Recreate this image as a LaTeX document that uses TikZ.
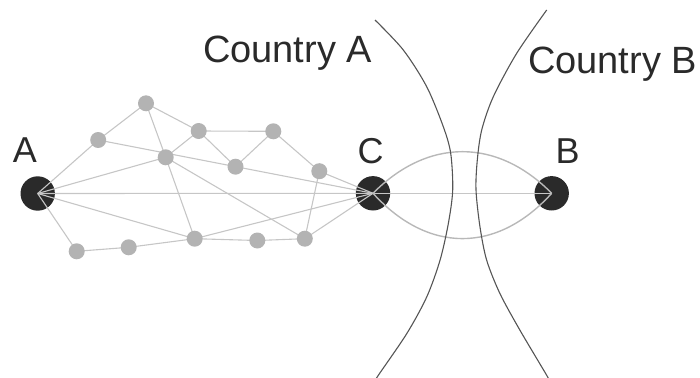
\documentclass[tikz,border=0pt]{standalone}
\usepackage{fontspec}
\setmainfont{Liberation Sans}
\definecolor{dotdark}{HTML}{2A2A2A}
\definecolor{dotgray}{HTML}{B3B3B3}
\definecolor{edgegray}{HTML}{C6C6C6}
\definecolor{lensgray}{HTML}{B8B8B8}
\definecolor{bordergray}{HTML}{555555}
\definecolor{textdark}{HTML}{2A2A2A}
\pgfdeclarelayer{bg}
\pgfdeclarelayer{edges}
\pgfsetlayers{bg,edges,main}
\begin{document}
\begin{tikzpicture}[x=1pt,y=-1pt,
  bigdot/.style={circle,fill=dotdark,inner sep=0pt,minimum size=34.4pt},
  smalldot/.style={circle,fill=dotgray,inner sep=0pt,minimum size=16pt},
  edge/.style={draw=edgegray,line width=1.1pt},
  border/.style={draw=bordergray,line width=1.1pt},
  lens/.style={draw=lensgray,line width=1.4pt},
  lbl/.style={text=textdark,font=\fontsize{36}{40}\selectfont,anchor=base,inner sep=0pt},
  clbl/.style={text=textdark,font=\fontsize{38}{44}\selectfont,anchor=base,inner sep=0pt}]
\useasboundingbox (0,0) rectangle (700,377);

% big nodes
\begin{pgfonlayer}{bg}
\node[bigdot] (A) at (37.7,193.5) {};
\node[bigdot] (C) at (373,193.3) {};
\node[bigdot] (B) at (551.7,193.3) {};
\end{pgfonlayer}

% small nodes
\node[smalldot] (n1) at (146,103.3) {};
\node[smalldot] (n2) at (98.2,140) {};
\node[smalldot] (n3) at (198.7,131) {};
\node[smalldot] (n4) at (273.3,131.3) {};
\node[smalldot] (n5) at (165.7,157.3) {};
\node[smalldot] (n6) at (235.5,166.7) {};
\node[smalldot] (n7) at (319.3,171.2) {};
\node[smalldot] (n8) at (76.7,251.3) {};
\node[smalldot] (n9) at (128.7,247.3) {};
\node[smalldot] (n10) at (194.7,238.7) {};
\node[smalldot] (n11) at (257.3,240.5) {};
\node[smalldot] (n12) at (304.8,238.7) {};

% labels
\node[lbl] (lA) at (25,162.3) {A};
\node[lbl] (lC) at (370.5,163) {C};
\node[lbl] (lB) at (567.5,163.3) {B};
\node[clbl] (cA) at (287.5,63) {Country A};
\node[clbl] (cB) at (612.5,73.3) {Country B};

% edges
\begin{pgfonlayer}{edges}
\draw[edge] (A.center) -- (n2.center);
\draw[edge] (A.center) -- (n5.center);
\draw[edge] (A.center) -- (C.center);
\draw[edge] (A.center) -- (n10.center);
\draw[edge] (A.center) -- (n8.center);
\draw[edge] (n2.center) -- (n1.center);
\draw[edge] (n2.center) -- (C.center);
\draw[edge] (n1.center) -- (n3.center);
\draw[edge] (n1.center) -- (n5.center);
\draw[edge] (n5.center) -- (n10.center);
\draw[edge] (n3.center) -- (n4.center);
\draw[edge] (n3.center) -- (n5.center);
\draw[edge] (n3.center) -- (n6.center);
\draw[edge] (n4.center) -- (n6.center);
\draw[edge] (n4.center) -- (n7.center);
\draw[edge] (n7.center) -- (C.center);
\draw[edge] (n7.center) -- (n12.center);
\draw[edge] (n5.center) -- (n12.center);
\draw[edge] (n8.center) -- (n9.center);
\draw[edge] (n9.center) -- (n10.center);
\draw[edge] (n10.center) -- (n11.center);
\draw[edge] (n11.center) -- (n12.center);
\draw[edge] (n12.center) -- (C.center);
\draw[edge] (n10.center) -- (C.center);
\draw[edge] (C.center) -- (B.center);
\draw[lens] (C.center) .. controls (428,137.8) and (497,137.8) .. (B.center);
\draw[lens] (C.center) .. controls (428,253.7) and (497,253.7) .. (B.center);
\end{pgfonlayer}

% country borders
\draw[border] plot[smooth] coordinates {(375,20) (403.3,50) (426.7,86.7) (443.3,126.7) (450.7,153.3) (452.7,190) (448.3,223.7) (440,260.3) (426.7,297) (406.7,333.7) (378.3,375.3) (377,378)};
\draw[border] plot[smooth] coordinates {(546.7,10) (516.7,53.3) (493.3,96.7) (481.7,130) (477.3,160) (476,190) (480,227) (486.7,260.3) (500,293.7) (520,330.3) (546.7,375.3) (547.7,378)};
\end{tikzpicture}
\end{document}
